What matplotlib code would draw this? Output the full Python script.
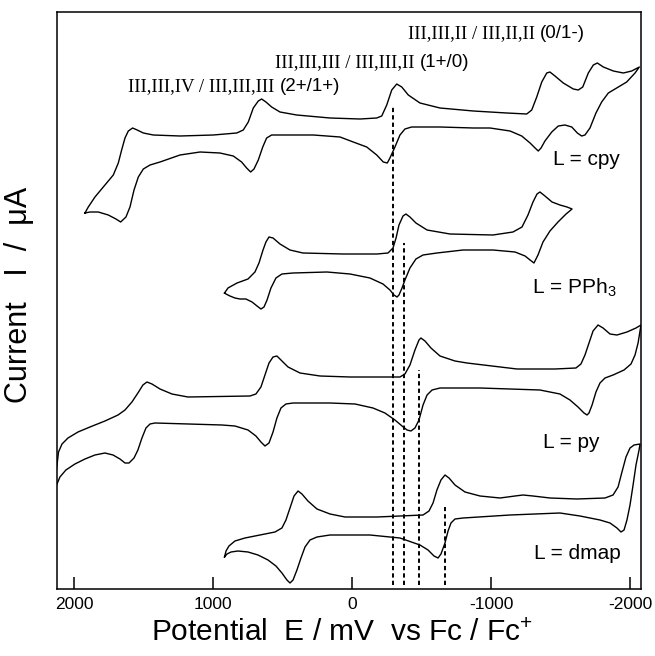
import matplotlib
matplotlib.use('Agg')
import matplotlib.pyplot as plt
from matplotlib.offsetbox import TextArea, HPacker, AnnotationBbox

plt.rcParams['font.family'] = ['Liberation Sans', 'DejaVu Sans']
plt.rcParams['mathtext.fontset'] = 'custom'
plt.rcParams['mathtext.rm'] = 'Liberation Sans'
plt.rcParams['mathtext.it'] = 'Liberation Sans:italic'
plt.rcParams['mathtext.bf'] = 'Liberation Sans:bold'

# ---------------- data (potential E in mV vs Fc/Fc+, current in arbitrary units) ----------------
cpy_E = [1921, 1897, 1849, 1777, 1717, 1681, 1657, 1633, 1609, 1578, 1545, 1501, 1429, 1237, 998, 829,
         782, 746, 710, 674, 650, 619, 578, 518, 398, 158, -58, -178, -214, -250, -286, -322, -358,
         -405, -489, -633, -873, -1113, -1257, -1293, -1329, -1365, -1401, -1424, -1460, -1520, -1592,
         -1628, -1660, -1700, -1736, -1765, -1808, -1880, -1952, -2012, -2067,
         -2036, -1976, -1904, -1844, -1796, -1755, -1712, -1676, -1652, -1621, -1581, -1532, -1484,
         -1437, -1388, -1360, -1340, -1317, -1281, -1221, -1137, -993, -873, -633, -429, -381, -345,
         -309, -273, -254, -225, -178, -106, -9, 86, 278, 494, 578, 614, 642, 674, 705, 729, 758, 794,
         854, 950, 1093, 1237, 1381, 1453, 1501, 1537, 1568, 1597, 1626, 1664, 1698, 1753, 1825, 1885, 1921]
cpy_I = [376, 382, 392, 404, 414, 426, 439, 451, 458, 461, 459, 456, 454, 453, 454, 456,
         459, 467, 481, 488, 490, 487, 482, 477, 474, 471, 470, 471, 473, 484, 499, 505, 502,
         494, 486, 481, 478, 476, 475, 479, 492, 507, 516, 517, 513, 506, 500,
         499, 502, 516, 524, 526, 522, 518, 516, 518, 522,
         516, 507, 501, 496, 487, 476, 461, 454, 453, 456, 462, 464, 463,
         457, 448, 441, 438, 441, 446, 453, 458, 461, 461, 462, 462, 460, 454,
         442, 431, 426, 427, 434, 442, 447, 452, 454, 454, 454, 451, 442, 429, 420, 417, 421, 427,
         433, 436, 437, 434, 427, 424, 420, 412, 399, 382, 372, 367, 370, 374, 377, 377, 376]

pph3_E = [917, 892, 827, 748, 698, 669, 640, 619, 597, 568, 518, 446, 353, 65, -180, -259, -295, -317,
          -338, -367, -388, -417, -460, -540, -705, -1014, -1158, -1223, -1266, -1302, -1331, -1352,
          -1388, -1439, -1496, -1547, -1583,
          -1540, -1482, -1424, -1374, -1338, -1309, -1281, -1245, -1173, -1014, -799, -611, -511, -460,
          -417, -381, -360, -338, -324, -302, -273, -223, -129, 14, 180, 424, 504, 547, 583, 611, 633,
          655, 683, 719, 763, 806, 842, 878, 906, 917]
pph3_I = [296, 301, 306, 310, 317, 326, 339, 347, 352, 351, 345, 339, 336, 335, 335, 336, 341, 351,
          364, 373, 375, 372, 366, 359, 355, 354, 357, 362, 374, 387, 395, 397,
          393, 387, 384, 382, 380,
          375, 367, 358, 347, 334, 326, 329, 333, 337, 339, 339, 336, 334, 330,
          321, 309, 301, 294, 292, 294, 299, 305, 311, 315, 317, 316, 315, 311, 301, 289, 282,
          280, 283, 287, 290, 290, 291, 293, 295, 296]

py_E = [2144, 2122, 2111, 2086, 2043, 1971, 1885, 1777, 1683, 1633, 1583, 1540, 1504, 1475, 1439, 1381,
        1295, 1180, 734, 691, 655, 626, 597, 568, 540, 511, 460, 374, 230, 14, -345, -381, -417, -453,
        -482, -496, -525, -568, -633, -741, -827, -1187, -1460, -1611, -1647, -1676, -1705, -1734,
        -1770, -1806, -1856, -1906, -1978, -2043, -2079,
        -2058, -2036, -2007, -1957, -1878, -1820, -1784, -1755, -1727, -1705, -1691, -1669, -1626,
        -1568, -1496, -1352, -921, -633, -576, -540, -511, -482, -453, -424, -396, -360, -309, -237,
        -151, -22, 158, 424, 475, 511, 540, 568, 597, 626, 655, 691, 748, 842, 935, 1417, 1453, 1482,
        1511, 1540, 1568, 1604, 1633, 1669, 1719, 1777, 1849, 1921, 1993, 2058, 2101, 2122, 2144]
py_I = [97, 124, 137, 145, 151, 157, 162, 168, 174, 179, 187, 196, 204, 207, 205, 200,
        195, 192, 193, 195, 202, 214, 226, 232, 233, 229, 222, 216, 213, 212, 212, 215, 224, 239,
        249, 251, 248, 241, 233, 228, 226, 220, 220, 221, 225, 234, 246, 258,
        264, 261, 255, 254, 257, 261, 264,
        246, 234, 225, 219, 214, 211, 206, 197, 184, 176, 174, 176, 182,
        189, 195, 199, 201, 201, 199, 194, 184, 169, 161, 158, 159, 163, 169, 176,
        181, 185, 186, 186, 185, 181, 171, 157, 146, 143, 147, 153, 159, 163, 164, 166, 165, 161,
        151, 139, 131, 126, 126, 130, 134, 136, 134, 130, 125, 119, 112, 105, 97]

dmap_E = [917, 906, 885, 842, 770, 662, 554, 504, 475, 446, 417, 388, 360, 317, 252, 158, 50, -180,
          -511, -554, -583, -611, -640, -669, -698, -741, -813, -921, -1065, -1173, -1230, -1302,
          -1424, -1619, -1820, -1878, -1914, -1942, -1971, -2000, -2029, -2072,
          -2065, -2043, -2022, -2000, -1978, -1957, -1935, -1906, -1856, -1784, -1640, -1496, -1137,
          -799, -741, -712, -691, -669, -640, -619, -590, -547, -489, -345, -129, 158, 252, 302, 338,
          367, 396, 424, 446, 468, 504, 547, 604, 676, 748, 820, 870, 899, 917]
dmap_I = [32, 38, 43, 48, 51, 54, 57, 61, 69, 81, 93, 98, 95, 88, 80, 75, 72, 72,
          74, 78, 86, 99, 109, 114, 111, 104, 97, 93, 91, 93, 94, 93,
          91, 90, 91, 94, 102, 117, 132, 141, 144, 145,
          139, 124, 104, 84, 69, 59, 57, 61, 66, 69, 73, 76, 74,
          71, 70, 66, 58, 46, 35, 31, 33, 39, 44, 51, 54, 54, 52, 49, 42,
          31, 19, 9, 6, 9, 16, 23, 29, 34, 37, 38, 37, 35, 32]

ligand_labels = ['L = cpy', 'L = PPh$_3$', 'L = py', 'L = dmap']
ligand_label_E = [-1446, -1295, -1374, -1309]
ligand_label_I = [424, 295, 141, 30]

dash_E = [-295, -374, -482, -669]
dash_top = [482, 346, 219, 82]
dash_bottom = 4

couple_roman = ['III,III,IV / III,III,III', 'III,III,III / III,III,II', 'III,III,II / III,II,II']
couple_charge = ['(2+/1+)', '(1+/0)', '(0/1-)']
couple_E = [1611, 554, -400]
couple_I = [494, 518, 547]

xticks = [2000, 1000, 0, -1000, -2000]

# ---------------- figure ----------------
fig = plt.figure(figsize=(6.55, 6.56), dpi=100)
ax = fig.add_axes([57 / 655, 67 / 656, 584 / 655, 577 / 656])

for E, I in [(cpy_E, cpy_I), (pph3_E, pph3_I), (py_E, py_I), (dmap_E, dmap_I)]:
    ax.plot(E, I, color='black', lw=1.0, solid_joinstyle='round')

for e, top in zip(dash_E, dash_top):
    ax.plot([e, e], [dash_bottom, top], color='black', lw=1.4, linestyle=(0, (2.2, 1.6)))

for lab, e, i in zip(ligand_labels, ligand_label_E, ligand_label_I):
    ax.text(e, i, lab, fontsize=15, ha='left', va='baseline')

for rom, chg, e, i in zip(couple_roman, couple_charge, couple_E, couple_I):
    t1 = TextArea(rom, textprops=dict(family='Liberation Serif', size=13.5))
    t2 = TextArea(chg, textprops=dict(family='Liberation Sans', size=13.5))
    box = HPacker(children=[t1, t2], align='baseline', pad=0, sep=4)
    ab = AnnotationBbox(box, (e, i), xycoords='data', box_alignment=(0, 0), frameon=False, pad=0)
    ax.add_artist(ab)

ax.set_xlim(2122, -2079)
ax.set_ylim(0, 577)
ax.set_xticks(xticks)
ax.set_xticklabels([str(v) for v in xticks])
ax.set_yticks([])
ax.tick_params(axis='x', direction='in', length=8.5, width=1.1, labelsize=12.5, pad=6)
for s in ax.spines.values():
    s.set_linewidth(1.1)

ax.set_xlabel('Potential  E / mV  vs Fc / Fc$^{+}$', fontsize=21.5)
ax.xaxis.set_label_coords(0.488, -0.052)
ax.set_ylabel('Current   I  /  \u03bcA', fontsize=22)
ax.yaxis.set_label_coords(-0.04, 0.51)

fig.savefig('out.png', dpi=100)
